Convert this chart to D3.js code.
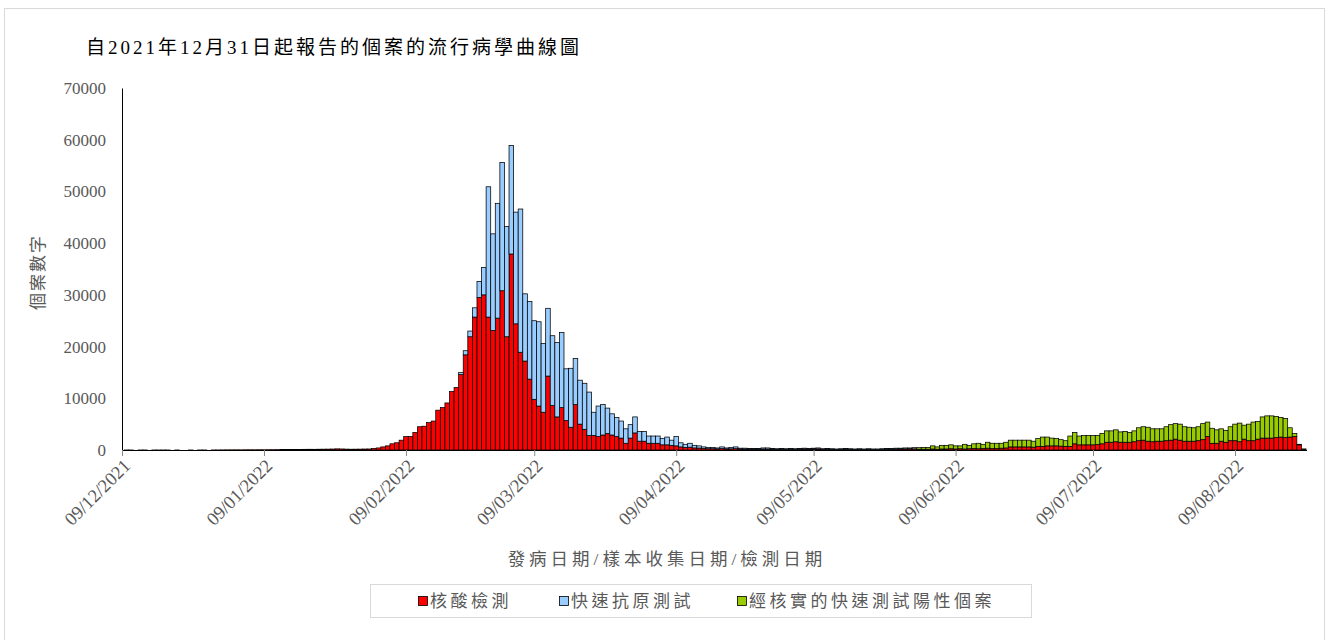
<!DOCTYPE html>
<html>
<head>
<meta charset="utf-8">
<title>Epidemic curve</title>
<script src="https://cdn.jsdelivr.net/npm/d3@7"></script>
<style>
body {
  margin: 0;
  background: #fff;
  font-family: "Liberation Serif", "Noto Sans CJK TC", serif;
}
.tick text { fill: #595959; }
</style>
</head>
<body>
<svg id="chart" width="1329" height="640"></svg>
<script>
// daily counts, each series starts at its own date
var pcrStart = new Date(2021, 11, 10);
var ratStart = new Date(2022, 1, 21);
var verifiedStart = new Date(2022, 5, 1);

var pcr = [
  // Dec 10 - Dec 30
  8,6,0,5,7,0,6,5,8,6,0,5,0,0,6,0,5,7,0,10,12,
  // Dec 31 - Jan 31
  20,25,30,35,30,40,45,40,50,45,55,60,70,80,90,100,110,120,130,140,130,150,160,170,190,220,200,170,150,160,170,190,
  // Feb 1 - Feb 28
  200,300,400,600,800,1200,1400,1900,2600,2600,3400,4500,4600,5300,5600,7700,8200,9100,11300,12100,
  14600,18400,21900,25700,29500,30000,25700,23100,
  // Mar
  25500,30800,21900,37900,24400,18900,17200,13700,9800,8500,7300,14300,8600,6400,8200,5700,4400,8800,5000,4000,
  2800,2800,2600,2900,3200,2900,2600,2300,1300,2300,3300,
  // Apr
  1700,1700,1300,1300,1300,1000,1000,900,800,600,500,550,400,380,300,250,250,200,280,200,
  230,260,170,160,150,150,150,180,170,150,
  // May
  130,150,130,150,130,150,170,150,180,200,150,150,130,110,130,150,130,110,130,110,
  130,110,110,130,150,150,170,180,200,220,220,
  // Jun
  150,150,150,200,150,200,200,250,200,250,200,250,300,250,300,350,300,300,350,400,
  600,600,600,600,600,550,700,700,800,800,
  // Jul
  800,750,700,700,1200,1000,1000,1000,1000,1050,1200,1500,1500,1600,1500,1500,1500,1600,1800,1900,
  1700,1600,1700,1700,1800,1900,2100,1900,1700,1700,1700,
  // Aug 1 - Aug 24
  1800,2000,2600,1300,1300,1700,1500,1800,1800,1600,2100,1800,1800,2100,2300,2300,2300,2400,2500,2400,
  2500,2600,1000,150
];

var rat = [
  // Feb 21 - Feb 28
  400,800,1100,1800,3100,5300,25200,18700,
  // Mar
  22200,24800,21300,21000,21600,27700,13000,15000,15200,16300,13300,13100,13500,14400,14500,10000,11400,8900,8500,8900,
  8400,4500,5900,5900,4900,4100,3700,3300,2800,2600,3100,
  // Apr
  1900,1900,1400,1400,1400,1200,1500,1000,1800,800,600,750,500,420,300,250,250,200,320,200,
  270,340,180,190,150,150,150,220,230,150,
  // May
  120,150,120,150,120,150,180,150,170,200,100,150,120,90,120,150,120,90,120,90,
  120,90,90,120,150,150,180,170,200,180,230
];

var verified = [
  // Jun
  300,350,350,600,450,700,700,750,600,550,900,650,900,1050,800,1150,1000,1000,950,1100,
  1300,1300,1300,1300,1300,1150,1500,1800,1700,1500,
  // Jul
  1400,1250,1100,2000,2200,1700,1800,1800,1800,1750,2000,2200,2200,2300,2000,2100,1900,2100,2500,2600,
  2700,2500,2400,2400,2700,3000,3000,3100,2800,2700,2600,
  // Aug 1 - Aug 24
  2700,3100,2800,2900,2600,2400,2300,2700,3200,3600,2700,3200,3600,3400,4100,4300,4300,4100,3800,3700,
  1800,600,100,50
];

var seriesKeys = ['pcr', 'rat', 'verified'];
var seriesNames = ['核酸檢測', '快速抗原測試', '經核實的快速測試陽性個案'];
var seriesColors = ['#FF0000', '#99CCFF', '#99CC00'];
var yTicks = [0, 10000, 20000, 30000, 40000, 50000, 60000, 70000];
var xTickDates = [
  new Date(2021, 11, 9), new Date(2022, 0, 9), new Date(2022, 1, 9), new Date(2022, 2, 9),
  new Date(2022, 3, 9), new Date(2022, 4, 9), new Date(2022, 5, 9), new Date(2022, 6, 9),
  new Date(2022, 7, 9)
];

// build one row per day
var day = d3.timeDay;
var rows = pcr.map(function(v, i) {
  var d = day.offset(pcrStart, i);
  var ri = day.count(ratStart, d);
  var vi = day.count(verifiedStart, d);
  return {
    date: d,
    pcr: v,
    rat: (ri >= 0 && ri < rat.length) ? rat[ri] : 0,
    verified: (vi >= 0 && vi < verified.length) ? verified[vi] : 0
  };
});

var svg = d3.select('#chart');
var grey = '#595959';

// outer frame
svg.append('rect')
  .attr('x', 4.5).attr('y', 8.5).attr('width', 1320).attr('height', 640)
  .attr('fill', 'none').attr('stroke', '#d9d9d9');

svg.append('text')
  .attr('x', 86).attr('y', 54)
  .style('font-size', '19px').style('letter-spacing', '3px')
  .attr('fill', '#000')
  .text('自2021年12月31日起報告的個案的流行病學曲線圖');

var x = d3.scaleTime()
  .domain([new Date(2021, 11, 9), new Date(2022, 7, 9)])
  .range([122, 1235]);
var y = d3.scaleLinear().domain([0, 70000]).range([450, 88]);
var dayW = x(new Date(2022, 0, 2)) - x(new Date(2022, 0, 1));

// x axis baseline, grey where there are hardly any cases
svg.append('line')
  .attr('x1', 122).attr('x2', 1307).attr('y1', 450.5).attr('y2', 450.5)
  .attr('stroke', '#000').attr('stroke-width', 1.2);

var stack = d3.stack().keys(seriesKeys)(rows);

svg.append('g').selectAll('g')
  .data(stack)
  .join('g')
  .attr('fill', function(s, i) { return seriesColors[i]; })
  .selectAll('rect')
  .data(function(s) { return s.filter(function(p) { return p[1] - p[0] > 0; }); })
  .join('rect')
  .attr('x', function(p) { return x(p.data.date) - dayW / 2; })
  .attr('width', dayW)
  .attr('y', function(p) { return y(p[1]); })
  .attr('height', function(p) { return y(p[0]) - y(p[1]); })
  .attr('stroke', '#000')
  .attr('stroke-width', 0.75);

// y axis
var yAxis = svg.append('g')
  .attr('transform', 'translate(122,0)')
  .call(d3.axisLeft(y).tickValues(yTicks).tickFormat(d3.format('d')).tickSize(0).tickPadding(16));
yAxis.select('.domain').attr('stroke', '#000');
yAxis.selectAll('text').style('font-size', '17px').style('font-family', 'Liberation Serif');

// x axis
var xAxis = svg.append('g')
  .attr('transform', 'translate(0,450)')
  .call(d3.axisBottom(x).tickValues(xTickDates).tickFormat(d3.timeFormat('%d/%m/%Y')).tickSize(6).tickSizeOuter(0));
xAxis.select('.domain').remove();
xAxis.selectAll('.tick line').attr('stroke', '#888');
xAxis.selectAll('text')
  .style('font-size', '18.5px').style('font-family', 'Liberation Serif')
  .attr('text-anchor', 'end')
  .attr('dy', null).attr('y', 0)
  .attr('transform', 'translate(9,17) rotate(-45)');

// axis titles
svg.append('text')
  .attr('transform', 'translate(44,272) rotate(-90)')
  .attr('text-anchor', 'middle')
  .style('font-size', '17px').style('letter-spacing', '2px')
  .attr('fill', grey)
  .text('個案數字');

svg.append('text')
  .attr('x', 667).attr('y', 565)
  .attr('text-anchor', 'middle')
  .style('font-size', '17.5px').style('letter-spacing', '4px')
  .attr('fill', grey)
  .text('發病日期/樣本收集日期/檢測日期');

// legend
var legend = svg.append('g');
legend.append('rect')
  .attr('x', 370.5).attr('y', 584.5).attr('width', 661).attr('height', 33)
  .attr('fill', '#fff').attr('stroke', '#d9d9d9');
var legendX = [418, 559, 737];
seriesNames.forEach(function(name, i) {
  legend.append('rect')
    .attr('x', legendX[i] + 0.5).attr('y', 596.5).attr('width', 9).attr('height', 9)
    .attr('fill', seriesColors[i]).attr('stroke', '#000').attr('stroke-width', 0.8);
  legend.append('text')
    .attr('x', legendX[i] + 12).attr('y', 607)
    .style('font-size', '17px').style('letter-spacing', '3.5px')
    .attr('fill', grey)
    .text(name);
});
</script>
</body>
</html>
